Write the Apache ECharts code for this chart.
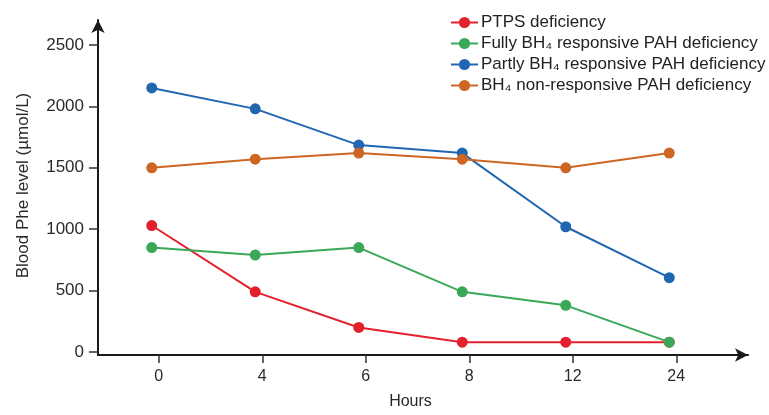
<!DOCTYPE html>
<html>
<head>
<meta charset="utf-8">
<script src="https://cdn.jsdelivr.net/npm/echarts@6/dist/echarts.min.js"></script>
<style>html,body{margin:0;padding:0;background:#fff}#c{width:769px;height:415px}</style>
</head>
<body>
<div id="c"></div>
<script>
const categories = ['0', '4', '6', '8', '12', '24'];
const seriesNames = [
  'PTPS deficiency',
  'Fully BH₄ responsive PAH deficiency',
  'Partly BH₄ responsive PAH deficiency',
  'BH₄ non-responsive PAH deficiency'
];
const ptps = [1030, 490, 200, 80, 80, 80];
const fullyResponsive = [850, 790, 850, 490, 380, 80];
const partlyResponsive = [2150, 1980, 1685, 1620, 1020, 605];
const nonResponsive = [1500, 1570, 1620, 1570, 1500, 1620];
const yTicks = [0, 500, 1000, 1500, 2000, 2500];
const colors = ['#e3202d', '#3aa858', '#2166b1', '#cd6623'];

const allValues = [ptps, fullyResponsive, partlyResponsive, nonResponsive];
const FONT = '"Liberation Sans", Arial, sans-serif';
const TXT = '#2a2a2a';

const chart = echarts.init(document.getElementById('c'), null, {renderer: 'canvas'});
chart.setOption({
  animation: false,
  color: colors,
  textStyle: {fontFamily: FONT},
  legend: {
    orient: 'vertical',
    left: 450,
    top: 14,
    padding: 0,
    itemWidth: 27,
    itemHeight: 14,
    itemGap: 4,
    textStyle: {fontSize: 17, color: '#222', fontFamily: FONT, padding: [0, 0, 0, -2]},
    data: seriesNames
  },
  grid: [
    {left: 100, right: 48, top: 45, bottom: 60},
    {left: 98, right: 21, top: 20, bottom: 60},
    {left: 107, right: 41, top: 45, bottom: 60}
  ],
  xAxis: [
    {
      type: 'category', gridIndex: 0, data: categories, boundaryGap: true,
      name: 'Hours', nameLocation: 'middle', nameGap: 42,
      nameTextStyle: {fontSize: 16, color: TXT, fontFamily: FONT},
      axisLine: {show: false}, axisTick: {show: false}, axisLabel: {show: false},
      splitLine: {show: false}
    },
    {
      type: 'value', gridIndex: 1, min: 0, max: 1,
      axisLine: {show: true, symbol: ['none', 'arrow'], symbolSize: [10, 13], lineStyle: {color: '#1a1a1a', width: 2}},
      axisTick: {show: false}, axisLabel: {show: false}, splitLine: {show: false}
    },
    {
      type: 'category', gridIndex: 2, data: categories, boundaryGap: true,
      axisLine: {show: false},
      axisTick: {show: true, alignWithLabel: true, length: 8, lineStyle: {color: '#333', width: 1.5}},
      axisLabel: {fontSize: 16, color: TXT, margin: 14, fontFamily: FONT},
      splitLine: {show: false}
    }
  ],
  yAxis: [
    {
      type: 'value', gridIndex: 0, min: yTicks[0], max: yTicks[yTicks.length - 1], interval: 500, offset: 2,
      name: 'Blood Phe level (µmol/L)', nameLocation: 'middle', nameGap: 66,
      nameTextStyle: {fontSize: 17, color: TXT, fontFamily: FONT, padding: [0, 0, 0, 26]},
      axisLine: {show: false},
      axisTick: {show: true, length: 9, lineStyle: {color: '#333', width: 1.5}},
      axisLabel: {fontSize: 17, color: TXT, margin: 14, fontFamily: FONT, formatter: v => String(v)},
      splitLine: {show: false}
    },
    {
      type: 'value', gridIndex: 1, min: 0, max: 1,
      axisLine: {show: true, symbol: ['none', 'arrow'], symbolSize: [10, 13], lineStyle: {color: '#1a1a1a', width: 2}},
      axisTick: {show: false}, axisLabel: {show: false}, splitLine: {show: false}
    },
    {
      type: 'value', gridIndex: 2, min: 0, max: 1, show: false
    }
  ],
  series: seriesNames.map((name, i) => ({
    name: name,
    type: 'line',
    xAxisIndex: 0,
    yAxisIndex: 0,
    data: allValues[i],
    symbol: 'circle',
    symbolSize: 11,
    lineStyle: {width: 2, color: colors[i]},
    itemStyle: {color: colors[i]}
  }))
});
</script>
</body>
</html>
